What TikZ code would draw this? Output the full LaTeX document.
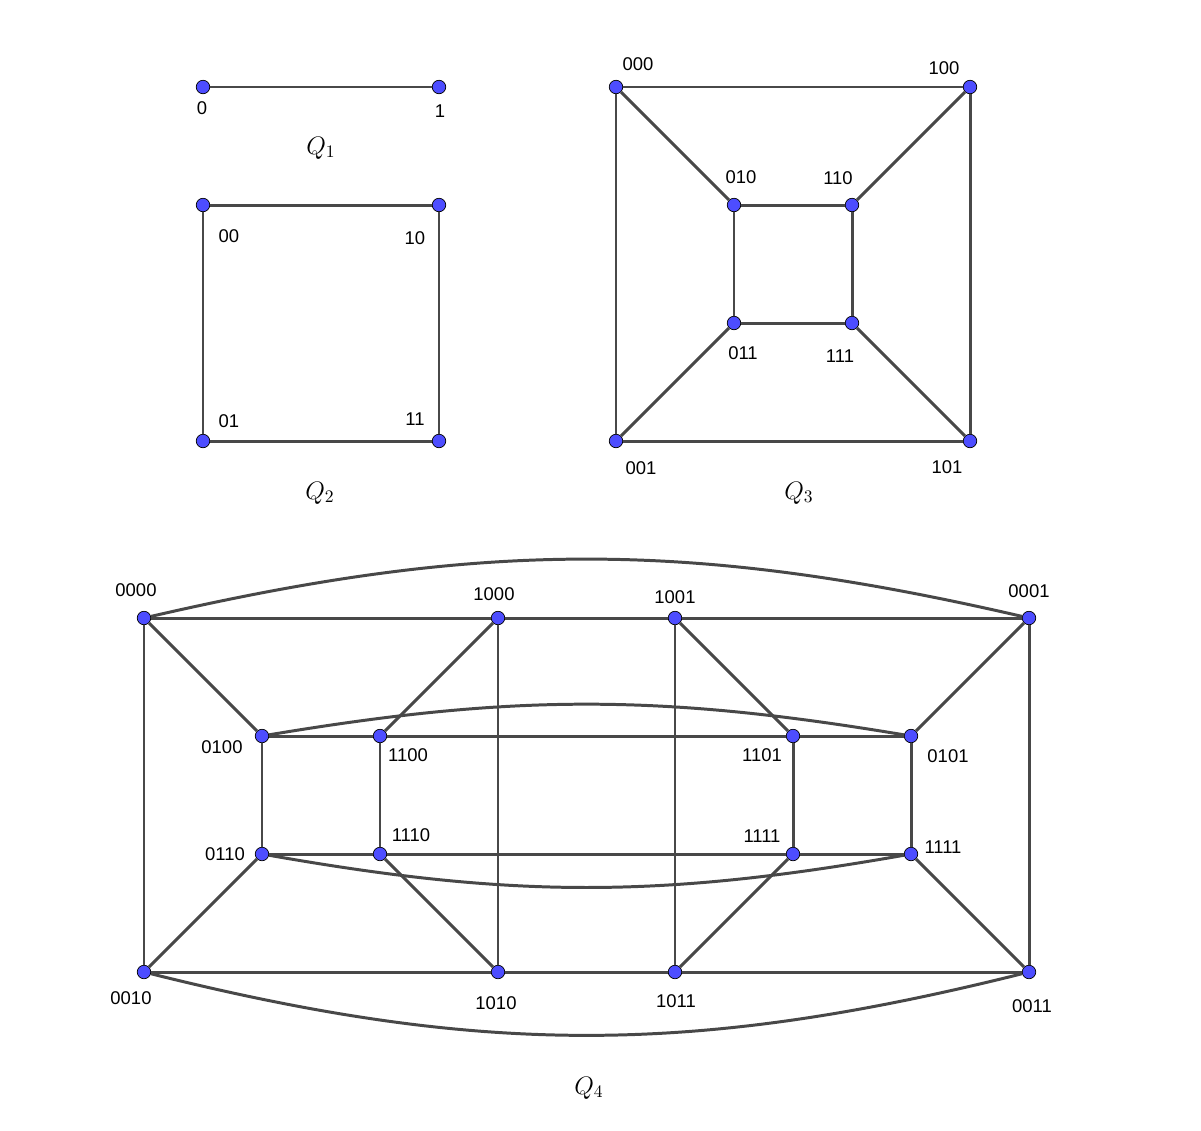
\documentclass[tikz,border=0pt]{standalone}
\usepackage{amsmath}
\usepackage{fontspec}
\setmainfont{Liberation Sans}
\definecolor{vblue}{RGB}{77,77,255}
\definecolor{edgegrey}{RGB}{72,72,72}

\begin{document}
\begin{tikzpicture}[x=0.02cm,y=-0.02cm,
	vertex/.style={draw=black, fill=vblue, circle, inner sep=0pt, minimum size=0.27cm, line width=0.4pt},
	edge/.style={draw=edgegrey, line width=1.7pt},
	lbl/.style={font=\fontsize{10.5}{12}\selectfont, inner sep=0pt},
	qname/.style={font=\fontsize{14}{16}\selectfont, inner sep=0pt}]
	\useasboundingbox (0,0) rectangle (1201,1130);
	%Q1
	\node [vertex] (a0) at (203,87){};
	\node [vertex] (a1) at (439,87){};
	\draw [edge] (a0) -- (a1);
	\node [lbl] (la0) at (202,108) {0};
	\node [lbl] (la1) at (440,111) {1};
	\node [qname] (q1) at (321,148) {$Q_1$};
	
	%Q2
	\node [vertex] (b00) at (203,205){};
	\node [vertex] (b10) at (439,205){};
	\node [vertex] (b01) at (203,441){};
	\node [vertex] (b11) at (439,441){};
	\draw [edge] (b00) -- (b10) -- (b11) -- (b01) -- (b00);
	\node [lbl] (lb00) at (229,236) {00};
	\node [lbl] (lb10) at (415,238) {10};
	\node [lbl] (lb01) at (229,421) {01};
	\node [lbl] (lb11) at (415,419) {11};
	\node [qname] (q2) at (320,493) {$Q_2$};
	
	%Q3 outer
	\node [vertex] (c000) at (616,87){};
	\node [vertex] (c100) at (970,87){};
	\node [vertex] (c001) at (616,441){};
	\node [vertex] (c101) at (970,441){};
	%Q3 inner
	\node [vertex] (c010) at (734,205){};
	\node [vertex] (c110) at (852,205){};
	\node [vertex] (c011) at (734,323){};
	\node [vertex] (c111) at (852,323){};
	\draw [edge] (c000) -- (c100) -- (c101) -- (c001) -- (c000);
	\draw [edge] (c010) -- (c110) -- (c111) -- (c011) -- (c010);
	\draw [edge] (c000) -- (c010);
	\draw [edge] (c100) -- (c110);
	\draw [edge] (c001) -- (c011);
	\draw [edge] (c101) -- (c111);
	%labels
	\node [lbl] (lc000) at (638,64) {000};
	\node [lbl] (lc100) at (944,68) {100};
	\node [lbl] (lc001) at (641,468) {001};
	\node [lbl] (lc101) at (947,467) {101};
	\node [lbl] (lc010) at (741,177) {010};
	\node [lbl] (lc110) at (838,178) {110};
	\node [lbl] (lc011) at (743,353) {011};
	\node [lbl] (lc111) at (840,356) {111};
	\node [qname] (q3) at (799,493) {$Q_3$};
	
	%Q4 outer
	\node [vertex] (d0000) at (144,618){};
	\node [vertex] (d1000) at (498,618){};
	\node [vertex] (d1001) at (675,618){};
	\node [vertex] (d0001) at (1029,618){};
	\node [vertex] (d0010) at (144,972){};
	\node [vertex] (d1010) at (498,972){};
	\node [vertex] (d1011) at (675,972){};
	\node [vertex] (d0011) at (1029,972){};
	%Q4 inner
	\node [vertex] (d0100) at (262,736){};
	\node [vertex] (d1100) at (380,736){};
	\node [vertex] (d1101) at (793,736){};
	\node [vertex] (d0101) at (911,736){};
	\node [vertex] (d0110) at (262,854){};
	\node [vertex] (d1110) at (380,854){};
	\node [vertex] (d1111) at (793,854){};
	\node [vertex] (d0111) at (911,854){};
	
	\draw [edge] (d0000) -- (d1000) -- (d1001) -- (d0001) -- (d0011);
	\draw [edge] (d0000) -- (d0010) -- (d1010) -- (d1011) -- (d0011);
	\draw [edge] (d1000) -- (d1010);
	\draw [edge] (d1001) -- (d1011);
	\draw [edge] (d0100) -- (d1100) -- (d1101) -- (d0101) -- (d0111);
	\draw [edge] (d0100) -- (d0110) -- (d1110) -- (d1111) -- (d0111);
	\draw [edge] (d1100) -- (d1110);
	\draw [edge] (d1101) -- (d1111);
	%diagonals
	\draw [edge] (d0000) -- (d0100);
	\draw [edge] (d1000) -- (d1100);
	\draw [edge] (d1001) -- (d1101);
	\draw [edge] (d0001) -- (d0101);
	\draw [edge] (d0010) -- (d0110);
	\draw [edge] (d1010) -- (d1110);
	\draw [edge] (d1011) -- (d1111);
	\draw [edge] (d0011) -- (d0111);
	%arcs
	\draw [edge] (d0000) to[bend left=13] (d0001);
	\draw [edge] (d0010) to[bend right=14] (d0011);
	\draw [edge] (d0100) to[bend left=9.5] (d0101);
	\draw [edge] (d0110) to[bend right=10] (d0111);
	
	%labels
	\node [lbl] (ld0000) at (136,590) {0000};
	\node [lbl] (ld1000) at (494,594) {1000};
	\node [lbl] (ld1001) at (675,597) {1001};
	\node [lbl] (ld0001) at (1029,591) {0001};
	\node [lbl] (ld0100) at (222,747) {0100};
	\node [lbl] (ld1100) at (408,755) {1100};
	\node [lbl] (ld1101) at (762,755) {1101};
	\node [lbl] (ld0101) at (948,756) {0101};
	\node [lbl] (ld0110) at (225,854) {0110};
	\node [lbl] (ld1110) at (411,835) {1110};
	\node [lbl] (ld1111) at (762,836) {1111};
	\node [lbl] (ld0111) at (943,847) {1111};
	\node [lbl] (ld0010) at (131,998) {0010};
	\node [lbl] (ld1010) at (496,1003) {1010};
	\node [lbl] (ld1011) at (676,1001) {1011};
	\node [lbl] (ld0011) at (1032,1006) {0011};
	\node [qname] (q4) at (589,1088) {$Q_4$};
\end{tikzpicture}
\end{document}
